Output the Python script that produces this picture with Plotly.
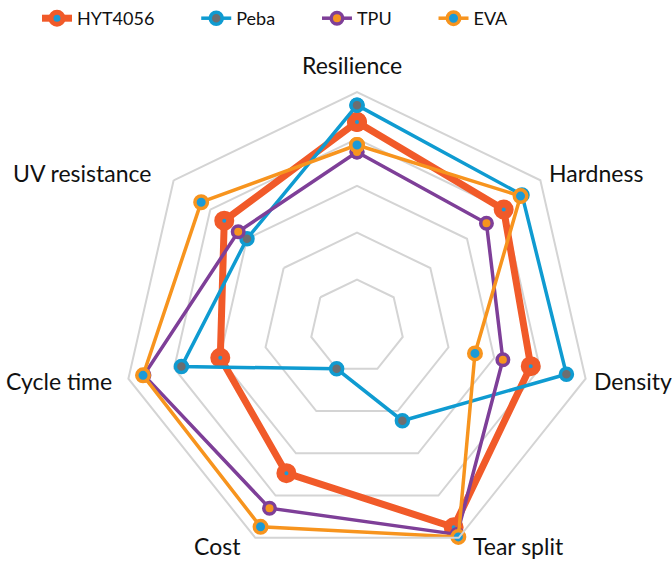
import plotly.graph_objects as go

categories = ["Resilience", "Hardness", "Density", "Tear split", "Cost", "Cycle time", "UV resistance"]
hyt4056 = [4.36, 4.0, 3.8, 4.75, 3.47, 2.99, 3.62]
peba = [4.72, 4.5, 4.58, 2.23, 1.0, 3.84, 3.0]
tpu = [3.72, 3.53, 3.19, 4.92, 4.3, 4.66, 3.24]
eva = [3.87, 4.46, 2.58, 4.98, 4.74, 4.68, 4.25]

W, H = 672, 561
PAD = "\u00a0" * 8


def px_x(x):
    return x / W


def px_y(y):
    return 1 - y / H


series = [
    ("HYT4056", hyt4056, "#F15A29", 7, "#1B9AD6", 12, 8),
    ("Peba", peba, "#0F9BD1", 3.5, "#6D6E70", 12, 3.5),
    ("TPU", tpu, "#7E3F98", 3.5, "#F7941E", 11.5, 3.5),
    ("EVA", eva, "#F7941E", 3.5, "#1B9AD6", 12.5, 3.5),
]

fig = go.Figure()
for name, vals, col, lw, inner, ms, mlw in series:
    fig.add_trace(go.Scatterpolar(
        r=vals + vals[:1],
        theta=categories + categories[:1],
        name=name + PAD,
        mode="lines+markers",
        line=dict(color=col, width=lw),
        marker=dict(size=ms, color=inner, line=dict(color=col, width=mlw)),
    ))

# category label placement (window pixel anchor, x-anchor) around the polygon
label_pos = {
    "Resilience": (352, 65, "center"),
    "Hardness": (547, 173, "left"),
    "Density": (592, 381, "left"),
    "Tear split": (471, 546, "left"),
    "Cost": (243, 546, "right"),
    "Cycle time": (114, 381, "right"),
    "UV resistance": (153, 173, "right"),
}
annotations = []
for cat in categories:
    px, py, xa = label_pos[cat]
    annotations.append(dict(
        text=cat, x=px_x(px), y=px_y(py), xref="paper", yref="paper",
        xanchor=xa, yanchor="middle", showarrow=False,
        font=dict(family="Lato", size=23, color="#111111"),
    ))

fig.update_layout(
    width=W, height=H,
    margin=dict(l=0, r=0, t=0, b=0, autoexpand=False),
    paper_bgcolor="white",
    font=dict(family="Lato", size=18, color="#111111"),
    showlegend=True,
    legend=dict(orientation="h", x=37 / W, y=1, xanchor="left", yanchor="top",
                font=dict(family="Lato", size=18, color="#111111"),
                tracegroupgap=0),
    annotations=annotations,
    polar=dict(
        domain=dict(x=[px_x(122), px_x(592)], y=[0, px_y(92)]),
        bgcolor="white",
        gridshape="linear",
        radialaxis=dict(range=[0, 5], tickvals=[1, 2, 3, 4], showticklabels=False,
                        ticks="", showline=False, gridcolor="#D4D4D4", gridwidth=2),
        angularaxis=dict(direction="clockwise", rotation=90, showgrid=False,
                         showline=True, linecolor="#D4D4D4", linewidth=2,
                         ticks="", showticklabels=False),
    ),
)

fig.write_html(
    "out.html",
    config={"displayModeBar": False},
    post_script="document.body.style.margin='0px';document.body.style.overflow='hidden';",
)
